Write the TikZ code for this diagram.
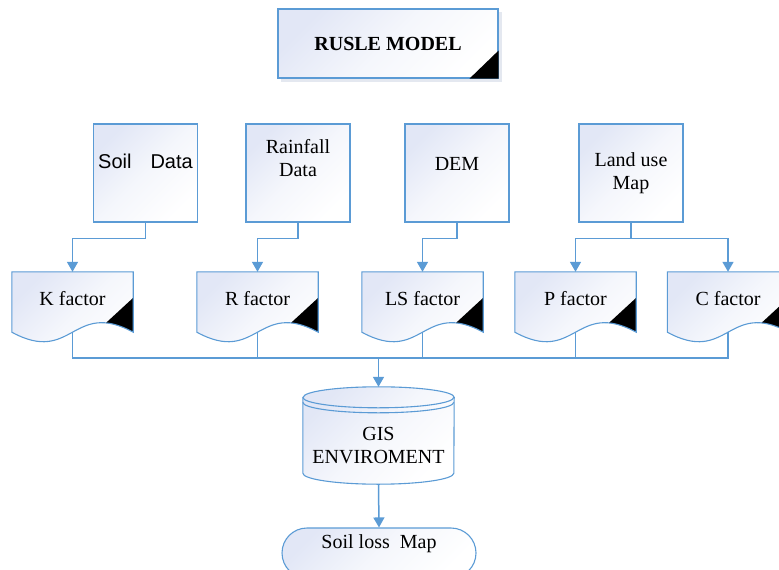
\documentclass[tikz,border=0pt]{standalone}
\usepackage{fontspec}
\setmainfont{Liberation Serif}
\newfontfamily\arialf{Liberation Sans}
\usetikzlibrary{arrows.meta,calc,backgrounds,shapes.misc}
\definecolor{bluec}{RGB}{91,155,213}
\definecolor{fillc}{RGB}{226,231,246}
\definecolor{shadowc}{RGB}{228,232,240}
\tikzset{
  gradfill/.style={top color=fillc, bottom color=white, middle color=fillc!35!white, shading angle=45},
  box/.style={draw=bluec, line width=1.1pt, gradfill, inner sep=0pt},
  lbl/.style={font=\fontsize{20}{23}\selectfont, align=center, inner sep=0pt},
  docn/.style={rectangle, minimum width=121pt, minimum height=60pt, inner sep=0pt},
  shapeline/.style={draw=bluec, line width=1.1pt},
  conn/.style={draw=bluec, line width=1.5pt, -{Triangle[length=10pt,width=11pt]}},
  bus/.style={draw=bluec, line width=1.5pt}
}
\newcommand\docshape[1]{%
  \shade[gradfill] (#1.north west) -- (#1.north east) -- (#1.south east)
     .. controls ($(#1.south)+(0,-33)$) and ($(#1.south)+(0,33)$) .. (#1.south west) -- cycle;
  \begin{scope}
    \clip (#1.north west) -- (#1.north east) -- (#1.south east)
     .. controls ($(#1.south)+(0,-33)$) and ($(#1.south)+(0,33)$) .. (#1.south west) -- cycle;
    \fill[black] ($(#1.north east)+(0,26)$) -- ($(#1.north east)+(-51,73)$) -- ($(#1.north east)+(10,73)$) -- cycle;
  \end{scope}
  \draw[shapeline] (#1.north west) -- (#1.north east) -- (#1.south east)
     .. controls ($(#1.south)+(0,-33)$) and ($(#1.south)+(0,33)$) .. (#1.south west) -- cycle;
}
\begin{document}
\begin{tikzpicture}[x=1pt,y=-1pt]
\useasboundingbox (0,0) rectangle (779,570);
% title
\node[box, minimum width=220pt, minimum height=69pt, font=\fontsize{20}{23}\selectfont\bfseries] (rusle) at (388,43.5) {RUSLE MODEL};
\begin{scope}[on background layer]
  \fill[shadowc] ($(rusle.north west)+(4,4)$) rectangle ($(rusle.south east)+(3,3)$);
\end{scope}
\fill[black] (rusle.south east) -- ++(0,-28) -- ++(-29,28) -- cycle;
% data boxes
\node[box, minimum width=104pt, minimum height=98pt,
  label={[lbl,yshift=12pt]center:{\arialf Soil\hspace{19pt}Data}}] (soil) at (145.5,173) {};
\node[box, minimum width=104pt, minimum height=98pt,
  label={[lbl,yshift=15pt]center:{Rainfall\\Data}}] (rain) at (298,173) {};
\node[box, minimum width=104pt, minimum height=98pt,
  label={[lbl,yshift=9pt]center:{DEM}}] (dem) at (457,173) {};
\node[box, minimum width=104pt, minimum height=98pt,
  label={[lbl,yshift=0pt]center:{Land use\\Map}}] (land) at (631,173) {};
% factor documents
\node[docn, label={[lbl,yshift=3pt]center:K factor}] (K) at (72.5,302) {};
\node[docn, label={[lbl,yshift=3pt]center:R factor}] (R) at (257.5,302) {};
\node[docn, label={[lbl,yshift=3pt]center:LS factor}] (LS) at (422.5,302) {};
\node[docn, label={[lbl,yshift=3pt]center:P factor}] (P) at (575.5,302) {};
\node[docn, label={[lbl,yshift=3pt]center:C factor}] (C) at (728,302) {};
\begin{scope}[on background layer]
  \docshape{K}
  \docshape{R}
  \docshape{LS}
  \docshape{P}
  \docshape{C}
\end{scope}
% GIS cylinder
\node[rectangle, minimum width=151pt, minimum height=97pt, inner sep=0pt,
  label={[lbl,yshift=-10pt]center:{GIS\\ENVIROMENT}}] (gis) at (378.5,435.5) {};
\begin{scope}[on background layer]
  \shade[gradfill] ($(gis.north west)+(0,10.5)$) -- ($(gis.south west)+(0,-11)$)
     arc[start angle=180, end angle=360, x radius=75.5pt, y radius=11pt]
     -- ($(gis.north east)+(0,10.5)$)
     arc[start angle=0, end angle=180, x radius=75.5pt, y radius=10.5pt] -- cycle;
  \draw[shapeline] ($(gis.north west)+(0,10.5)$) -- ($(gis.south west)+(0,-11)$)
     arc[start angle=180, end angle=360, x radius=75.5pt, y radius=11pt]
     -- ($(gis.north east)+(0,10.5)$)
     arc[start angle=0, end angle=180, x radius=75.5pt, y radius=10.5pt] -- cycle;
  \draw[shapeline] ($(gis.north west)+(0,10.5)$)
     arc[start angle=180, end angle=360, x radius=75.5pt, y radius=10.5pt];
  \draw[shapeline] ($(gis.north west)+(0,15.5)$)
     arc[start angle=180, end angle=360, x radius=75.5pt, y radius=10.5pt];
\end{scope}
% soil loss map
\node[rounded rectangle, draw=bluec, line width=1.1pt, gradfill, minimum width=194pt, minimum height=50pt, inner sep=0pt,
  label={[lbl,yshift=9pt]center:{Soil loss\ \ Map}}] (map) at (379,553) {};
% connectors top
\draw[conn] (soil.south) -- ++(0,16) -| (K.north);
\draw[conn] (rain.south) -- ++(0,16) -| (R.north);
\draw[conn] (dem.south) -- ++(0,16) -| (LS.north);
\draw[conn] (land.south) -- ++(0,16) coordinate (lj) -| (P.north);
\draw[conn] (lj) -| (C.north);
% bus
\draw[bus] (K.south) -- ++(0,26) coordinate (busy) -- (busy -| C.south) -- (C.south);
\draw[bus] (R.south) -- (R.south |- busy);
\draw[bus] (LS.south) -- (LS.south |- busy);
\draw[bus] (P.south) -- (P.south |- busy);
\draw[conn] (gis.north |- busy) -- (gis.north);
\draw[conn] (gis.south) -- (map.north);
\end{tikzpicture}
\end{document}
